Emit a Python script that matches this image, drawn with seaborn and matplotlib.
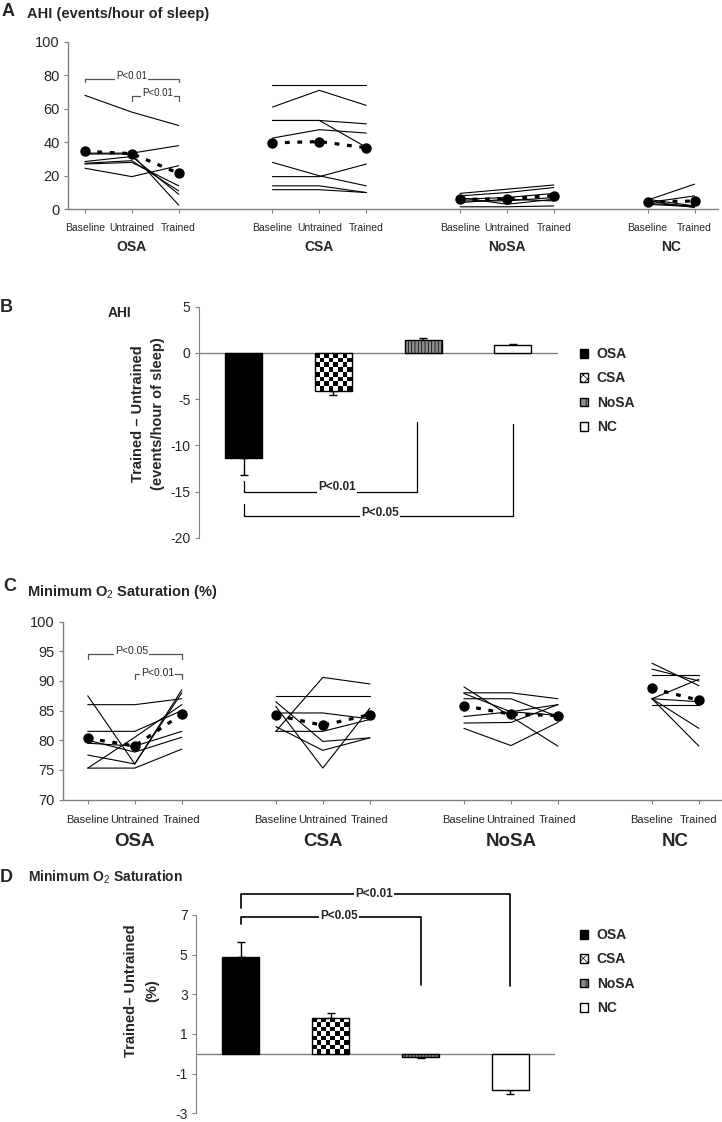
import numpy as np
import pandas as pd
import matplotlib
matplotlib.use("Agg")
import matplotlib.pyplot as plt
import matplotlib.patches as mpatches
import matplotlib.transforms as mtransforms
import seaborn as sns

# ---- data ----
groups = ["OSA", "CSA", "NoSA", "NC"]
phase_names = {
    "OSA": ["Baseline", "Untrained", "Trained"],
    "CSA": ["Baseline", "Untrained", "Trained"],
    "NoSA": ["Baseline", "Untrained", "Trained"],
    "NC": ["Baseline", "Trained"],
}

# AHI (events/hour of sleep), one row per subject
ahi_osa = [[68, 58, 50], [33.5, 33.5, 38], [33, 33, 2.5], [28.5, 31.5, 9],
           [27.5, 29, 11], [27, 28, 14], [24.5, 19.5, 26]]
ahi_csa = [[74, 74, 74], [61, 71, 62], [53, 53, 51], [53, 53, 37], [42.5, 47.5, 45.5],
           [28, 20, 14], [19.5, 19.5, 27], [14, 14, 10], [11.7, 11.7, 10]]
ahi_nosa = [[9.5, 12, 14.5], [8, 10, 13], [6, 7, 9.5], [5, 5, 7], [4, 6, 5],
            [7, 3, 6], [1.5, 1.5, 2]]
ahi_nc = [[5.5, 15], [4, 8], [6, 2], [3, 1.5], [5, 1], [3.5, 2]]

# minimum O2 saturation (%)
sat_osa = [[87.5, 76, 88.5], [86, 86, 87], [81.5, 81.5, 85], [80, 78, 80.5],
           [79.5, 79, 81.5], [77.5, 76, 88], [75.3, 75.3, 78.5], [75.3, 80.5, 86]]
sat_csa = [[81.5, 90.6, 89.5], [87.5, 87.5, 87.5], [86.5, 79.8, 80.4], [85.7, 75.3, 85.4],
           [84.6, 84.6, 83.6], [82.3, 78.3, 80.4], [81.5, 81.5, 83.5]]
sat_nosa = [[89, 84, 79], [88, 88, 87], [87, 87, 84], [87.9, 84.8, 84.2],
            [84, 84.8, 86], [82.9, 83, 86], [82, 79.1, 83]]
sat_nc = [[93, 89.2], [92, 90], [91, 91], [87, 90.3], [87, 86.5], [86, 86], [87, 82], [87, 79]]

# trained - untrained, mean and SEM
ahi_diff = [-11.4, -4.1, 1.45, 0.9]
ahi_sem = [1.8, 0.5, 0.15, 0.1]
sat_diff = [4.9, 1.8, -0.17, -1.8]
sat_sem = [0.75, 0.25, 0.05, 0.25]

sns.set_style("white")
plt.rcParams["font.family"] = ["Liberation Sans", "DejaVu Sans"]
plt.rcParams["axes.unicode_minus"] = False
plt.rcParams["mathtext.fontset"] = "custom"
plt.rcParams["mathtext.rm"] = "Liberation Sans"
plt.rcParams["mathtext.bf"] = "Liberation Sans:bold"
plt.rcParams["hatch.linewidth"] = 0.5

GRAY = "#808080"
W, H = 722, 1122


def long_frame(per_group):
    rows = []
    for gi, (g, subjects) in enumerate(zip(groups, per_group)):
        for si, vals in enumerate(subjects):
            for pi, v in enumerate(vals):
                rows.append({"group": g, "subject": f"{g}{si}",
                             "phase": phase_names[g][pi], "pos": 4 * gi + pi, "value": v})
    return pd.DataFrame(rows)


def fig_axes(left, top, right, bottom):
    # pixel box -> figure fraction
    return fig.add_axes([left / W, 1 - bottom / H, (right - left) / W, (bottom - top) / H])


def bracket(ax, xs, ys, text, tx, ty, color="black", lw=0.9, size=8, weight="normal"):
    ax.plot(xs, ys, color=color, lw=lw, clip_on=False, zorder=6)
    ax.text(tx, ty, text, ha="center", va="center", fontsize=size, weight=weight,
            bbox=dict(facecolor="white", edgecolor="none", pad=0.6), zorder=7, clip_on=False)


def line_panel(ax, df, ylim, yticks, xlim, tick_size, group_size, group_y, tick_pad):
    sns.lineplot(data=df, x="pos", y="value", units="subject", estimator=None,
                 color="black", lw=0.8, ax=ax, legend=False)
    for g in groups:
        sub = df[df.group == g]
        sns.lineplot(data=sub, x="pos", y="value", estimator="mean", errorbar=None,
                     color="black", lw=2.3, linestyle=(0, (1.5, 2.4)), marker="o",
                     markersize=7.5, markeredgewidth=0, ax=ax, zorder=5, legend=False)
    ticks = df.drop_duplicates("pos").sort_values("pos")
    ax.set_xticks(ticks.pos)
    ax.set_xticklabels(ticks.phase, fontsize=tick_size)
    ax.set_xlim(*xlim)
    ax.set_ylim(*ylim)
    ax.set_yticks(yticks)
    ax.set_yticklabels([str(t) for t in yticks], fontsize=10.5)
    ax.set_xlabel("")
    ax.set_ylabel("")
    sns.despine(ax=ax)
    for s in ("left", "bottom"):
        ax.spines[s].set_color(GRAY)
        ax.spines[s].set_linewidth(1)
    ax.tick_params(axis="x", length=3, color=GRAY, pad=tick_pad, bottom=True)
    ax.tick_params(axis="y", length=3, color=GRAY, pad=3, left=True)
    trans = mtransforms.blended_transform_factory(ax.transData, ax.transAxes)
    for g in groups:
        center = df[df.group == g].pos.mean()
        ax.text(center, group_y, g, transform=trans, ha="center", va="center",
                fontsize=group_size, weight="bold")


def bar_panel(ax, values, sems, ylim, yticks):
    df = pd.DataFrame({"group": groups, "value": values})
    sns.barplot(data=df, x="group", y="value", order=groups, width=0.41, errorbar=None,
                color="white", edgecolor="black", linewidth=1, ax=ax, zorder=3)
    ax.set_xlim(-0.5, 3.5)
    ax.set_ylim(*ylim)
    fills = ["black", "white", "#8c8c8c", "white"]
    hatches = [None, None, "|||||", None]
    for p, fc, h in zip(ax.patches, fills, hatches):
        p.set_facecolor(fc)
        if h:
            p.set_hatch(h)
    # checkerboard for CSA
    p = ax.patches[1]
    x0, w, y0, h = p.get_x(), p.get_width(), p.get_y(), p.get_height()
    fig.canvas.draw()
    (px0, py0), (px1, py1) = ax.transData.transform([(x0, y0), (x0 + w, y0 + h)])
    nx = max(1, int(round(abs(px1 - px0) / 4.5)))
    ny = max(1, int(round(abs(py1 - py0) / 4.5)))
    checker = np.indices((ny, nx)).sum(0) % 2
    im = ax.imshow(checker, cmap="gray", extent=[x0, x0 + w, min(y0, y0 + h), max(y0, y0 + h)],
                   aspect="auto", interpolation="nearest", zorder=2.9)
    im.set_clip_path(p)
    p.set_facecolor("none")
    lower = [s if v < 0 else 0 for v, s in zip(values, sems)]
    upper = [s if v > 0 else 0 for v, s in zip(values, sems)]
    ax.errorbar(np.arange(len(groups)), values, yerr=[lower, upper], fmt="none",
                ecolor="black", elinewidth=1, capsize=3, capthick=1, zorder=2.5)
    ax.axhline(0, color=GRAY, lw=1, zorder=1)
    ax.set_xlim(-0.5, 3.5)
    ax.set_ylim(*ylim)
    ax.set_yticks(yticks)
    ax.set_yticklabels([str(t) for t in yticks], fontsize=10)
    ax.set_xticks([])
    ax.set_xlabel("")
    ax.set_ylabel("")
    sns.despine(ax=ax, bottom=True)
    ax.spines["left"].set_color(GRAY)
    ax.tick_params(axis="y", length=3, color=GRAY, pad=3, left=True)


def legend_at(x, y):
    handles = [
        mpatches.Patch(facecolor="black", edgecolor="black"),
        mpatches.Patch(facecolor="white", edgecolor="black", hatch="xxxx"),
        mpatches.Patch(facecolor="#8c8c8c", edgecolor="black", hatch="|||"),
        mpatches.Patch(facecolor="white", edgecolor="black"),
    ]
    fig.legend(handles, groups, loc="upper left", bbox_to_anchor=(x / W, 1 - y / H),
               frameon=False, prop=dict(weight="bold", size=10), handlelength=0.6,
               handleheight=0.6, handletextpad=0.6, labelspacing=0.75,
               borderpad=0, borderaxespad=0)


fig = plt.figure(figsize=(W / 100, H / 100), dpi=100)

# ---- A: AHI per subject ----
axA = fig_axes(68, 41.7, 718, 209.3)
line_panel(axA, long_frame([ahi_osa, ahi_csa, ahi_nosa, ahi_nc]), (0, 100),
           [0, 20, 40, 60, 80, 100], (-0.36, 13.5), 7.5, 10, -0.223, 7)
bracket(axA, [0, 0, 2, 2], [76, 78, 78, 76], "P<0.01", 1.0, 79.5, color="#555555", size=7)
bracket(axA, [1, 1, 2, 2], [64.5, 67.7, 67.7, 64.5], "P<0.01", 1.55, 69.2, color="#555555", size=7)
fig.text(2 / W, 1 - 12 / H, "A", fontsize=13, weight="bold", va="center")
fig.text(27 / W, 1 - 14 / H, "AHI (events/hour of sleep)", fontsize=10.5, weight="bold", va="center")

# ---- B: AHI change ----
axB = fig_axes(199, 306.7, 557.6, 537.7)
bar_panel(axB, ahi_diff, ahi_sem, (-20, 5), [5, 0, -5, -10, -15, -20])
bracket(axB, [0, 0, 1.93, 1.93], [-13.9, -15, -15, -7.5], "P<0.01", 1.04, -14.5,
        size=8.5, weight="bold")
bracket(axB, [0, 0, 3.0, 3.0], [-16.3, -17.7, -17.7, -7.7], "P<0.05", 1.52, -17.3,
        size=8.5, weight="bold")
legend_at(580, 347)
fig.text(0, 1 - 308 / H, "B", fontsize=13, weight="bold", va="center")
fig.text(108 / W, 1 - 313 / H, "AHI", fontsize=10, weight="bold", va="center")
fig.text(148 / W, 1 - 414 / H, "Trained – Untrained\n(events/hour of sleep)", rotation=90,
         ha="center", va="center", fontsize=10.5, weight="bold", linespacing=1.6,
         multialignment="center")

# ---- C: minimum O2 saturation per subject ----
axC = fig_axes(63.3, 621.7, 722, 799.5)
line_panel(axC, long_frame([sat_osa, sat_csa, sat_nosa, sat_nc]), (70, 100),
           [70, 75, 80, 85, 90, 95, 100], (-0.52, 13.49), 8, 13.5, -0.239, 8.5)
bracket(axC, [0, 0, 2, 2], [93.7, 94.6, 94.6, 93.7], "P<0.05", 0.93, 95.0, color="#555555", size=7.5)
bracket(axC, [1, 1, 2, 2], [90.3, 91.1, 91.1, 90.3], "P<0.01", 1.49, 91.4, color="#555555", size=7.5)
fig.text(3 / W, 1 - 586 / H, "C", fontsize=13, weight="bold", va="center")
fig.text(27 / W, 1 - 592 / H, r"Minimum O$_2$ Saturation (%)", fontsize=10.5, weight="bold", va="center")

# ---- D: O2 saturation change ----
axD = fig_axes(196, 915, 555.3, 1113.3)
bar_panel(axD, sat_diff, sat_sem, (-3, 7), [7, 5, 3, 1, -1, -3])
bracket(axD, [0, 0, 2.0, 2.0], [6.57, 6.9, 6.9, 3.45], "P<0.05", 1.09, 6.95,
        lw=1.2, size=8.5, weight="bold")
bracket(axD, [0, 0, 3.0, 3.0], [7.33, 8.07, 8.07, 3.4], "P<0.01", 1.48, 8.07,
        lw=1.2, size=8.5, weight="bold")
legend_at(580, 928)
fig.text(0, 1 - 877 / H, "D", fontsize=13, weight="bold", va="center")
fig.text(27.6 / W, 1 - 877 / H, r"Minimum O$_2$ Saturation", fontsize=10, weight="bold", va="center")
fig.text(141.5 / W, 1 - 991 / H, "Trained– Untrained\n(%)", rotation=90, ha="center",
         va="center", fontsize=10.5, weight="bold", linespacing=1.6, multialignment="center")

fig.savefig("out.png", dpi=100)
